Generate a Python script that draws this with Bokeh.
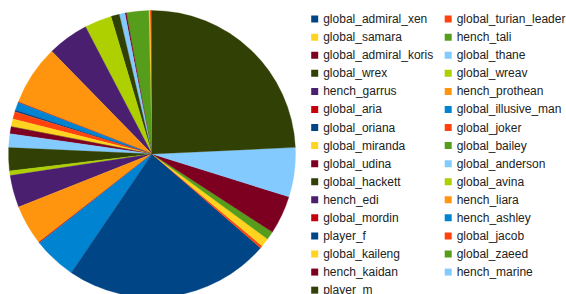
import numpy as np
from bokeh.plotting import figure
from bokeh.models import ColumnDataSource, Range1d
from bokeh.core.properties import value
from bokeh.embed import file_html
from bokeh.resources import INLINE

names = ["global_admiral_xen", "global_turian_leader", "global_samara", "hench_tali",
         "global_admiral_koris", "global_thane", "global_wrex", "global_wreav",
         "hench_garrus", "hench_prothean", "global_aria", "global_illusive_man",
         "global_oriana", "global_joker", "global_miranda", "global_bailey",
         "global_udina", "global_anderson", "global_hackett", "global_avina",
         "hench_edi", "hench_liara", "global_mordin", "hench_ashley",
         "player_f", "global_jacob", "global_kaileng", "global_zaeed",
         "hench_kaidan", "hench_marine", "player_m"]
values = [0.3, 0.5, 0.5, 9.0, 0.6, 2.3, 3.4, 11.0,
          16.7, 24.4, 0.2, 3.2, 0.7, 3.0, 3.1, 0.1,
          2.8, 5.6, 9.3, 1.9, 13.0, 16.3, 0.3, 17.5,
          83.3, 1.0, 3.5, 3.4, 15.6, 20.0, 87.3]

palette = ["#004586", "#ff420e", "#ffd320", "#579d1c", "#7e0021", "#83caff",
           "#314004", "#aecf00", "#4b1f6f", "#ff950e", "#c5000b", "#0084d1"]

W, H = 566, 294
vals = np.array(values, dtype=float)
frac = vals / vals.sum()
cum = np.concatenate([[0.0], np.cumsum(frac)]) * 2 * np.pi
start = np.pi / 2 + cum[:-1]
end = np.pi / 2 + cum[1:]
colors = [palette[i % len(palette)] for i in range(len(names))]

cx, cy, r = 151.5, H - 153.5, 143.5

src = ColumnDataSource(dict(start=start, end=end, color=colors, name=names))

p = figure(width=W, height=H, output_backend="svg", toolbar_location=None,
           x_range=Range1d(0, W), y_range=Range1d(0, H), min_border=0)
p.axis.visible = False
p.grid.visible = False
p.outline_line_color = None
p.background_fill_color = "white"
p.border_fill_color = "white"

p.wedge(x=cx, y=cy, radius=r, start_angle="start", end_angle="end",
        direction="anticlock", fill_color="color", line_color="color",
        line_width=0.3, source=src)

# legend, two columns, row-major
idx = np.arange(len(names))
col = idx % 2
row = idx // 2
sq_x = 314.2 + col * 133.5
tx_x = 322.7 + col * 133.5
ly = H - (18.6 + row * 18.07)
lsrc = ColumnDataSource(dict(sx=sq_x, tx=tx_x, y=ly, color=colors, name=names))
p.rect(x="sx", y="y", width=7, height=7, fill_color="color", line_color=None, source=lsrc)
p.text(x="tx", y="y", text="name", text_font=value("Liberation Sans"),
       text_font_size="12px", text_color="#222222", text_baseline="middle",
       source=lsrc)

open("out.html", "w").write(file_html(p, INLINE))
